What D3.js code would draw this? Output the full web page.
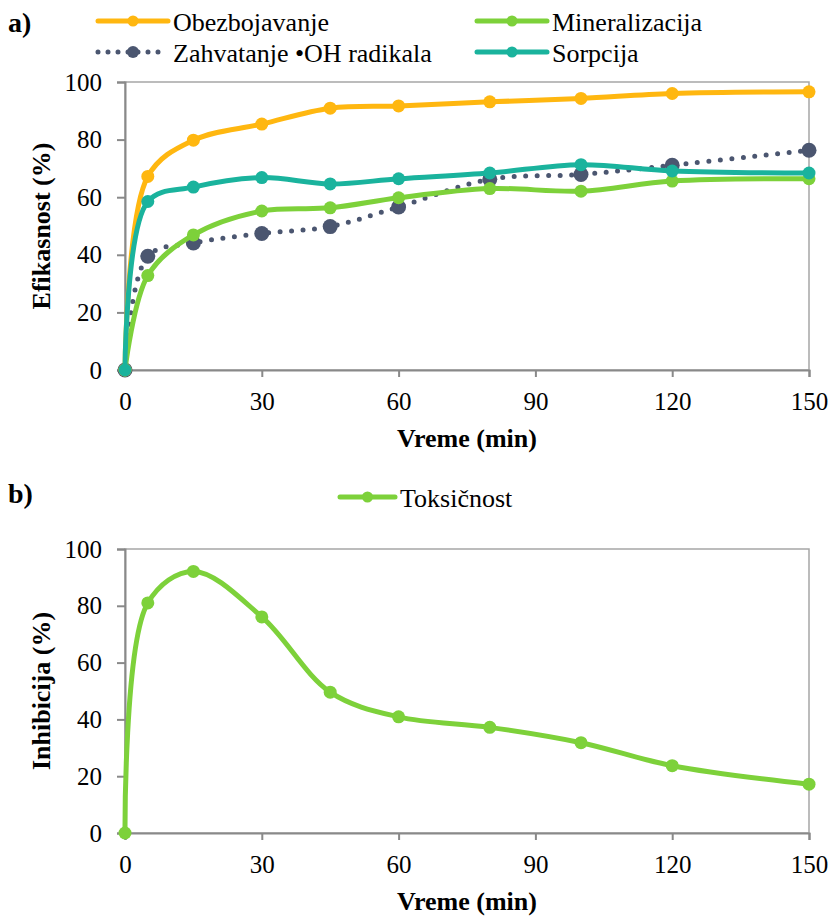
<!DOCTYPE html>
<html>
<head>
<meta charset="utf-8">
<script src="https://cdn.jsdelivr.net/npm/d3@7"></script>
<style>
	body { margin: 0; background: #fff; }
</style>
</head>
<body>
<div id="chart"></div>
<script>
var vreme = [0, 5, 15, 30, 45, 60, 80, 100, 120, 150];
var obezbojavanje = [0, 67.2, 79.8, 85.4, 90.9, 91.7, 93.1, 94.3, 96.0, 96.6];
var mineralizacija = [0, 32.8, 46.9, 55.2, 56.3, 59.8, 63.0, 62.1, 65.6, 66.4];
var zahvatanje = [0, 39.5, 44.1, 47.4, 49.8, 56.6, 66.2, 67.9, 71.1, 76.3];
var sorpcija = [0, 58.5, 63.5, 66.8, 64.6, 66.4, 68.4, 71.3, 69.1, 68.4];
var toksicnost = [0, 81.0, 92.1, 76.1, 49.6, 40.9, 37.2, 31.8, 23.7, 17.2];
var xTicks = [0, 30, 60, 90, 120, 150];
var yTicks = [0, 20, 40, 60, 80, 100];

var width = 834;
var height = 917;
var axisColor = '#898989';
var serif = '"Liberation Serif", "Times New Roman", serif';

var svg = d3.select('#chart')
	.append('svg')
	.attr('width', width)
	.attr('height', height)
	.style('font-family', serif);

var x = d3.scaleLinear().domain([0, 150]).range([125, 809]);

function addText(tx, ty, str, size, bold)
{
	return svg.append('text')
		.attr('x', tx)
		.attr('y', ty)
		.style('font-family', serif)
		.style('font-size', size + 'px')
		.style('font-weight', bold ? 'bold' : 'normal')
		.attr('fill', '#000')
		.text(str);
}

function drawPanel(top, bottom, yTitle)
{
	var y = d3.scaleLinear().domain([0, 100]).range([bottom, top]);

	svg.append('rect')
		.attr('x', x(0))
		.attr('y', top)
		.attr('width', x(150) - x(0))
		.attr('height', bottom - top)
		.attr('fill', 'none')
		.attr('stroke', '#a6a6a6')
		.attr('stroke-width', 1.5);

	var gx = svg.append('g')
		.attr('transform', 'translate(0,' + bottom + ')')
		.call(d3.axisBottom(x).tickValues(xTicks).tickSize(7).tickPadding(15));

	var gy = svg.append('g')
		.attr('transform', 'translate(' + x(0) + ',0)')
		.call(d3.axisLeft(y).tickValues(yTicks).tickSize(8).tickPadding(15));

	[gx, gy].forEach(function(g)
	{
		g.attr('font-family', null).attr('font-size', null);
		g.select('.domain').attr('stroke', axisColor).attr('stroke-width', 2);
		g.selectAll('.tick line').attr('stroke', axisColor).attr('stroke-width', 2);
		g.selectAll('.tick text')
			.style('font-family', serif)
			.style('font-size', '25px')
			.attr('fill', '#000');
	});

	addText((x(0) + x(150)) / 2, bottom + 77, 'Vreme (min)', 26, true)
		.attr('text-anchor', 'middle');

	svg.append('text')
		.attr('transform', 'translate(50,' + ((top + bottom) / 2) + ') rotate(-90)')
		.attr('text-anchor', 'middle')
		.style('font-family', serif)
		.style('font-size', '26px')
		.style('font-weight', 'bold')
		.text(yTitle);

	return y;
}

function drawSeries(y, values, color, dotted, markerR)
{
	var data = vreme.map(function(t, i) { return [t, values[i]]; });

	var line = d3.line()
		.x(function(d) { return x(d[0]); })
		.y(function(d) { return y(d[1]); })
		.curve(d3.curveCatmullRom.alpha(0.5));

	var path = svg.append('path')
		.datum(data)
		.attr('d', line)
		.attr('fill', 'none')
		.attr('stroke', color)
		.attr('stroke-width', 5)
		.attr('stroke-linecap', 'round');

	if (dotted)
	{
		path.attr('stroke-dasharray', '0 11.5');
	}

	svg.append('g')
		.selectAll('circle')
		.data(data)
		.enter()
		.append('circle')
		.attr('cx', function(d) { return x(d[0]); })
		.attr('cy', function(d) { return y(d[1]); })
		.attr('r', markerR)
		.attr('fill', color);
}

function legendItem(lx, ly, len, label, color, dotted, markerR)
{
	var line = svg.append('line')
		.attr('x1', lx)
		.attr('x2', lx + len)
		.attr('y1', ly)
		.attr('y2', ly)
		.attr('stroke', color)
		.attr('stroke-width', 5)
		.attr('stroke-linecap', 'round');
	if (dotted)
	{
		line.attr('stroke-dasharray', '0 10');
	}
	svg.append('circle')
		.attr('cx', lx + len / 2)
		.attr('cy', ly)
		.attr('r', markerR)
		.attr('fill', color);
	addText(lx + len + 5, ly + 10, label, 26, false);
}

var orange = '#ffb710';
var green = '#7dd13a';
var slate = '#4b5670';
var teal = '#1ab39d';

// panel a
var yA = drawPanel(82, 370, 'Efikasnost (%)');
drawSeries(yA, zahvatanje, slate, true, 7.5);
drawSeries(yA, mineralizacija, green, false, 6.5);
drawSeries(yA, obezbojavanje, orange, false, 6.5);
drawSeries(yA, sorpcija, teal, false, 6.5);

legendItem(98, 21, 70, 'Obezbojavanje', orange, false, 5.5);
legendItem(477, 21, 70, 'Mineralizacija', green, false, 5.5);
legendItem(98, 52, 70, 'Zahvatanje \u2022OH radikala', slate, true, 6);
legendItem(477, 52, 70, 'Sorpcija', teal, false, 5.5);

addText(8, 32, 'a)', 28, true);

// panel b
var yB = drawPanel(549, 833, 'Inhibicija (%)');
drawSeries(yB, toksicnost, green, false, 6.5);

legendItem(340, 497, 55, 'Toksi\u010Dnost', green, false, 5.5);

addText(8, 503, 'b)', 28, true);
</script>
</body>
</html>
